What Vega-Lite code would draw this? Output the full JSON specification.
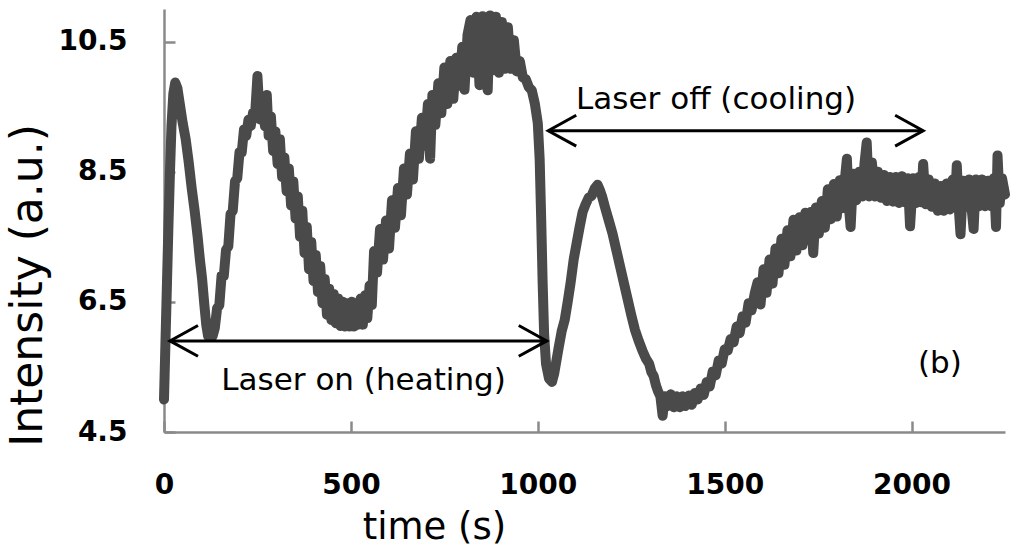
{
  "$schema": "https://vega.github.io/schema/vega-lite/v6.json",
  "width": 841,
  "height": 423,
  "autosize": {"type": "none"},
  "padding": {"left": 164, "top": 9, "right": 19, "bottom": 128},
  "background": "white",
  "config": {"view": {"stroke": null}},
  "datasets": {
    "s": [
      {"t":0,"v":5.0},{"t":4,"v":5.9},{"t":8,"v":6.8},{"t":12,"v":7.7},{"t":16,"v":8.5},{"t":20,"v":9.2},{"t":25,"v":9.7},{"t":30,"v":9.87},{"t":36,"v":9.78},{"t":42,"v":9.55},{"t":50,"v":9.25},{"t":58,"v":9.0},{"t":66,"v":8.65},{"t":74,"v":8.25},{"t":82,"v":7.9},{"t":90,"v":7.5},{"t":96,"v":7.15},{"t":102,"v":6.85},{"t":108,"v":6.45},{"t":113,"v":6.15},{"t":118,"v":5.97},{"t":124,"v":6.08},{"t":130,"v":5.97},
      {"t":136,"v":6.1},{"t":142,"v":6.4},{"t":148,"v":6.45},{"t":154,"v":6.9},{"t":160,"v":6.9},{"t":166,"v":7.3},{"t":172,"v":7.35},{"t":178,"v":7.85},{"t":184,"v":7.9},{"t":190,"v":8.35},{"t":196,"v":8.4},{"t":202,"v":8.8},{"t":208,"v":8.8},{"t":214,"v":9.15},{"t":220,"v":9.05},{"t":226,"v":9.3},{"t":232,"v":9.2},{"t":238,"v":9.4},{"t":244,"v":9.4},{"t":250,"v":9.97},{"t":254,"v":9.55},
      {"t":258,"v":9.3},{"t":264,"v":9.62},{"t":270,"v":9.2},{"t":275,"v":9.68},{"t":280,"v":9.05},{"t":286,"v":9.35},{"t":292,"v":8.82},{"t":298,"v":9.12},{"t":304,"v":8.62},{"t":310,"v":9.0},{"t":316,"v":8.42},{"t":322,"v":8.72},{"t":328,"v":8.2},{"t":334,"v":8.55},{"t":340,"v":7.98},{"t":346,"v":8.35},{"t":352,"v":7.78},{"t":358,"v":8.12},{"t":364,"v":7.5},{"t":370,"v":7.9},{"t":376,"v":7.25},{"t":382,"v":7.65},{"t":388,"v":7.0},{"t":394,"v":7.42},{"t":400,"v":6.82},{"t":406,"v":7.22},{"t":412,"v":6.65},{"t":418,"v":7.05},{"t":424,"v":6.48},{"t":430,"v":6.85},{"t":436,"v":6.3},{"t":442,"v":6.7},{"t":448,"v":6.22},{"t":454,"v":6.62},{"t":460,"v":6.17},{"t":466,"v":6.55},{"t":472,"v":6.13},{"t":478,"v":6.5},{"t":484,"v":6.12},{"t":490,"v":6.48},{"t":496,"v":6.12},{"t":502,"v":6.5},{"t":508,"v":6.12},{"t":514,"v":6.48},{"t":520,"v":6.15},{"t":526,"v":6.55},{"t":532,"v":6.15},{"t":538,"v":6.6},{"t":544,"v":6.25},
      {"t":550,"v":6.75},{"t":556,"v":6.45},{"t":562,"v":7.28},{"t":570,"v":6.95},{"t":578,"v":7.62},{"t":586,"v":7.15},{"t":594,"v":7.75},{"t":602,"v":7.32},{"t":610,"v":8.06},{"t":618,"v":7.64},{"t":626,"v":8.25},{"t":634,"v":7.83},{"t":642,"v":8.55},{"t":650,"v":8.15},{"t":658,"v":8.78},{"t":666,"v":8.38},{"t":674,"v":9.12},{"t":682,"v":8.7},{"t":690,"v":9.33},{"t":698,"v":8.9},{"t":706,"v":9.54},{"t":712,"v":8.7},{"t":718,"v":9.68},{"t":726,"v":9.22},{"t":734,"v":9.86},{"t":742,"v":9.4},{"t":750,"v":10.1},{"t":758,"v":9.54},{"t":766,"v":10.2},{"t":774,"v":9.62},{"t":782,"v":10.25},{"t":790,"v":9.82},{"t":798,"v":10.42},{"t":804,"v":9.76},{"t":812,"v":10.6},{"t":820,"v":10.83},{"t":828,"v":10.02},{"t":836,"v":10.88},{"t":844,"v":9.83},{"t":852,"v":10.89},{"t":860,"v":10.03},{"t":866,"v":9.75},{"t":872,"v":10.9},{"t":880,"v":10.06},{"t":888,"v":10.88},{"t":896,"v":10.02},{"t":904,"v":10.8},{"t":912,"v":10.08},{"t":920,"v":10.72},{"t":928,"v":10.08},{"t":936,"v":10.52},{"t":944,"v":10.04},{"t":952,"v":10.2},{"t":960,"v":9.95},{"t":968,"v":9.92},{"t":976,"v":9.8},{"t":984,"v":9.75},{"t":992,"v":9.55},{"t":1000,"v":9.25},{"t":1005,"v":8.7},{"t":1009,"v":7.8},{"t":1013,"v":6.8},{"t":1017,"v":6.0},{"t":1022,"v":5.55},{"t":1030,"v":5.32},{"t":1038,"v":5.27},{"t":1044,"v":5.4},
      {"t":1050,"v":5.6},{"t":1056,"v":5.8},{"t":1064,"v":6.05},{"t":1072,"v":6.22},{"t":1080,"v":6.5},{"t":1088,"v":6.8},{"t":1096,"v":7.15},{"t":1104,"v":7.4},{"t":1112,"v":7.65},{"t":1120,"v":7.88},{"t":1128,"v":8.0},{"t":1136,"v":8.1},{"t":1144,"v":8.13},{"t":1152,"v":8.24},{"t":1160,"v":8.3},{"t":1166,"v":8.22},{"t":1172,"v":8.12},{"t":1180,"v":7.95},{"t":1190,"v":7.75},{"t":1200,"v":7.55},{"t":1210,"v":7.3},{"t":1220,"v":7.05},{"t":1230,"v":6.8},{"t":1240,"v":6.55},{"t":1250,"v":6.3},{"t":1260,"v":6.07},{"t":1270,"v":5.9},{"t":1280,"v":5.75},{"t":1290,"v":5.62},{"t":1298,"v":5.55},{"t":1304,"v":5.42},{"t":1310,"v":5.36},{"t":1316,"v":5.22},{"t":1322,"v":5.12},{"t":1328,"v":5.05},
      {"t":1334,"v":4.75},{"t":1340,"v":5.05},{"t":1348,"v":4.9},{"t":1356,"v":5.08},{"t":1364,"v":4.88},{"t":1372,"v":5.05},{"t":1380,"v":4.88},{"t":1388,"v":5.05},{"t":1396,"v":4.9},{"t":1404,"v":5.06},{"t":1412,"v":4.92},{"t":1420,"v":5.1},{"t":1428,"v":5.0},{"t":1436,"v":5.17},{"t":1444,"v":5.07},{"t":1452,"v":5.27},{"t":1460,"v":5.2},{"t":1468,"v":5.43},{"t":1476,"v":5.37},{"t":1484,"v":5.6},{"t":1492,"v":5.55},{"t":1500,"v":5.77},{"t":1508,"v":5.75},{"t":1516,"v":5.93},{"t":1524,"v":5.88},{"t":1532,"v":6.12},{"t":1540,"v":6.02},{"t":1548,"v":6.28},{"t":1556,"v":6.18},{"t":1564,"v":6.48},{"t":1572,"v":6.37},{"t":1580,"v":6.62},
      {"t":1588,"v":6.8},{"t":1596,"v":6.46},{"t":1604,"v":7.0},{"t":1612,"v":6.64},{"t":1620,"v":7.15},{"t":1628,"v":6.78},{"t":1636,"v":7.32},{"t":1644,"v":6.94},{"t":1652,"v":7.47},{"t":1660,"v":7.07},{"t":1668,"v":7.6},{"t":1676,"v":7.2},{"t":1684,"v":7.76},{"t":1692,"v":7.29},{"t":1700,"v":7.8},{"t":1708,"v":7.37},{"t":1716,"v":7.87},{"t":1724,"v":7.45},{"t":1730,"v":7.88},{"t":1737,"v":7.25},{"t":1744,"v":7.95},{"t":1752,"v":7.55},{"t":1760,"v":8.05},{"t":1768,"v":7.64},{"t":1776,"v":8.23},{"t":1784,"v":7.77},{"t":1792,"v":8.31},{"t":1800,"v":7.81},{"t":1808,"v":8.37},{"t":1816,"v":7.94},{"t":1822,"v":8.4},{"t":1827,"v":8.7},{"t":1832,"v":7.98},{"t":1837,"v":7.65},{"t":1844,"v":8.47},{"t":1852,"v":8.06},{"t":1860,"v":8.5},{"t":1868,"v":8.12},{"t":1874,"v":8.62},{"t":1880,"v":8.95},{"t":1886,"v":8.12},{"t":1894,"v":8.64},{"t":1902,"v":8.12},
      {"t":1910,"v":8.5},{"t":1918,"v":8.1},{"t":1926,"v":8.45},{"t":1934,"v":8.05},{"t":1942,"v":8.42},{"t":1950,"v":8.04},{"t":1958,"v":8.42},{"t":1966,"v":8.02},{"t":1974,"v":8.43},{"t":1982,"v":8.03},{"t":1990,"v":8.4},{"t":1996,"v":7.66},{"t":2004,"v":8.4},{"t":2012,"v":8.02},{"t":2020,"v":8.42},{"t":2026,"v":8.03},{"t":2031,"v":8.62},{"t":2038,"v":8.0},{"t":2046,"v":8.38},{"t":2054,"v":7.96},{"t":2062,"v":8.32},{"t":2070,"v":7.9},{"t":2078,"v":8.28},{"t":2086,"v":7.9},{"t":2094,"v":8.32},{"t":2102,"v":7.92},{"t":2110,"v":8.38},{"t":2116,"v":7.95},{"t":2121,"v":8.6},{"t":2126,"v":7.97},{"t":2131,"v":7.54},{"t":2138,"v":8.36},{"t":2146,"v":7.96},{"t":2154,"v":8.38},{"t":2160,"v":7.98},{"t":2166,"v":7.62},{"t":2172,"v":8.38},{"t":2180,"v":7.97},{"t":2188,"v":8.38},{"t":2196,"v":7.97},{"t":2204,"v":8.36},{"t":2212,"v":7.97},{"t":2220,"v":8.4},{"t":2226,"v":7.65},{"t":2230,"v":8.75},{"t":2236,"v":8.02},{"t":2242,"v":8.4},{"t":2250,"v":8.15}
    ],
    "arrows": [
      {"t1":16,"t2":1024,"v":5.9},
      {"t1":1028,"t2":2031,"v":9.13}
    ],
    "heads": [
      {"t":16,"v":5.9,"dir":"left"},
      {"t":1024,"v":5.9,"dir":"right"},
      {"t":1028,"v":9.13,"dir":"left"},
      {"t":2031,"v":9.13,"dir":"right"}
    ],
    "notes": [
      {"t":534,"v":5.14,"label":"Laser on (heating)"},
      {"t":1477,"v":9.47,"label":"Laser off (cooling)"},
      {"t":2076,"v":5.4,"label":"(b)"}
    ]
  },
  "layer": [
    {
      "data": {"name": "s"},
      "mark": {"type": "line", "color": "#4a4a4a", "strokeWidth": 10, "strokeCap": "round", "strokeJoin": "round"},
      "encoding": {
        "x": {
          "field": "t", "type": "quantitative",
          "scale": {"domain": [0, 2250], "nice": false, "zero": false},
          "axis": {
            "values": [0, 500, 1000, 1500, 2000], "format": "d", "grid": false, "labelFlush": false,
            "domainColor": "#8a8a8a", "domainWidth": 2.5,
            "tickColor": "#8a8a8a", "tickWidth": 2.5, "tickSize": -11,
            "labelFont": "DejaVu Sans", "labelFontWeight": "bold", "labelFontSize": 28, "labelColor": "#000000", "labelPadding": 50,
            "title": "time (s)", "titleFont": "DejaVu Sans", "titleFontWeight": "normal", "titleFontSize": 37, "titleColor": "#000000",
            "titleX": 270, "titleY": 106, "titleAlign": "center", "titleBaseline": "alphabetic"
          }
        },
        "y": {
          "field": "v", "type": "quantitative",
          "scale": {"domain": [4.5, 11], "nice": false, "zero": false},
          "axis": {
            "values": [4.5, 6.5, 8.5, 10.5], "format": ".1f", "grid": false, "labelFlush": false,
            "domainColor": "#8a8a8a", "domainWidth": 2.5,
            "tickColor": "#8a8a8a", "tickWidth": 2.5, "tickSize": -11,
            "labelFont": "DejaVu Sans", "labelFontWeight": "bold", "labelFontSize": 28, "labelColor": "#000000", "labelPadding": 48,
            "title": "Intensity (a.u.)", "titleFont": "DejaVu Sans", "titleFontWeight": "normal", "titleFontSize": 44, "titleColor": "#000000",
            "titleX": -136, "titleY": 276, "titleAngle": -90, "titleAlign": "center", "titleBaseline": "middle"
          }
        }
      }
    },
    {
      "data": {"name": "arrows"},
      "mark": {"type": "rule", "color": "#000000", "strokeWidth": 3},
      "encoding": {
        "x": {"field": "t1", "type": "quantitative"},
        "x2": {"field": "t2"},
        "y": {"field": "v", "type": "quantitative"}
      }
    },
    {
      "data": {"name": "heads"},
      "mark": {"type": "point", "filled": false, "stroke": "#000000", "strokeWidth": 3, "opacity": 1, "size": 3136},
      "encoding": {
        "x": {"field": "t", "type": "quantitative"},
        "y": {"field": "v", "type": "quantitative"},
        "shape": {
          "field": "dir", "type": "nominal", "legend": null,
          "scale": {"domain": ["left", "right"], "range": ["M1,-0.55L0,0L1,0.55", "M-1,-0.55L0,0L-1,0.55"]}
        }
      }
    },
    {
      "data": {"name": "notes"},
      "mark": {"type": "text", "font": "DejaVu Sans", "fontSize": 31, "color": "#000000", "align": "center", "baseline": "alphabetic"},
      "encoding": {
        "x": {"field": "t", "type": "quantitative"},
        "y": {"field": "v", "type": "quantitative"},
        "text": {"field": "label"}
      }
    }
  ]
}
